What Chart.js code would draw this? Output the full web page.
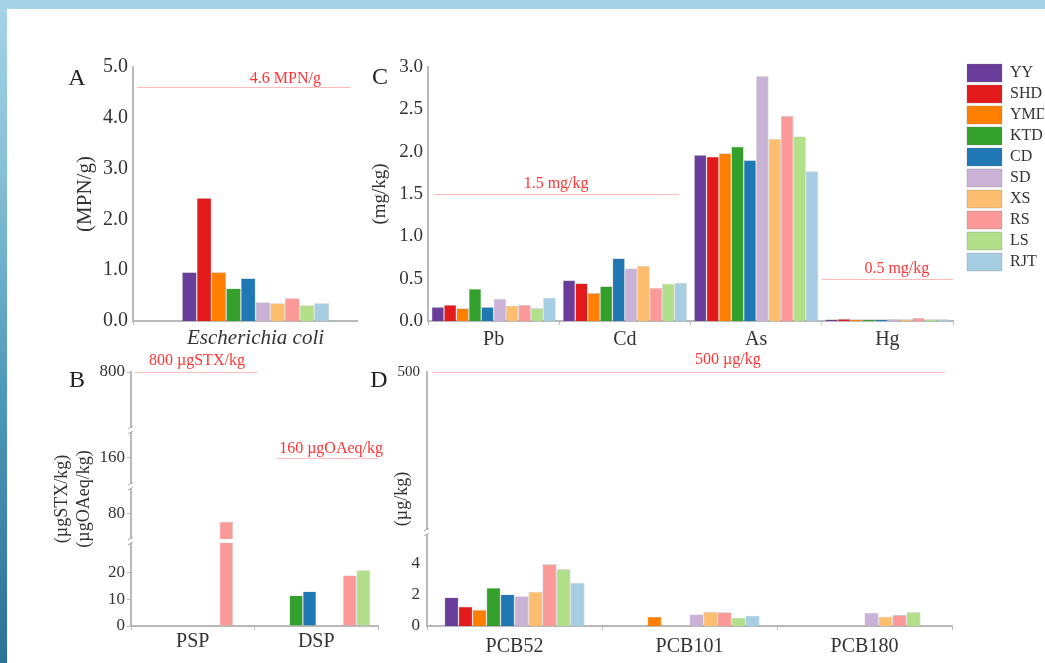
<!DOCTYPE html>
<html>
<head>
<meta charset="utf-8">
<script src="https://cdn.jsdelivr.net/npm/chart.js@4.4.1/dist/chart.umd.min.js"></script>
<style>
html, body { margin: 0; padding: 0; }
body {
  width: 1045px; height: 663px; overflow: hidden; position: relative;
  background: linear-gradient(180deg, #a6d3e7 0%, #86c1d7 25%, #4d98b7 60%, #2b7397 100%);
}
#paper { position: absolute; left: 7px; top: 9px; width: 1045px; height: 663px; background: #fff; }
canvas { position: absolute; left: 0; top: 0; }
</style>
</head>
<body>
<div id="paper"></div>
<canvas id="chartA" width="1045" height="663"></canvas>
<canvas id="chartB" width="1045" height="663"></canvas>
<canvas id="chartC" width="1045" height="663"></canvas>
<canvas id="chartD" width="1045" height="663"></canvas>
<script>
// sampling sites and their colours
const sites = ['YY', 'SHD', 'YMD', 'KTD', 'CD', 'SD', 'XS', 'RS', 'LS', 'RJT'];
const siteColors = ['#6a3d9a', '#e31a1c', '#ff7f00', '#33a02c', '#1f78b4',
                    '#cab2d6', '#fdbf6f', '#fb9a99', '#b2df8a', '#a6cee3'];

// A: microbes (MPN/g)
const microCats = ['Escherichia coli'];
const eColi = [0.96, 2.42, 0.96, 0.64, 0.84, 0.37, 0.35, 0.45, 0.31, 0.35];
const microLimits = [4.6];
const microLimitText = ['4.6 MPN/g'];

// B: shellfish toxins
const toxinCats = ['PSP', 'DSP'];
const psp = [null, null, null, null, null, null, null, 74, null, null];
const dsp = [null, null, null, 11.5, 13, null, null, 19, 21, null];
const toxinTicks = [0, 10, 20, 80, 160, 800];
const toxinLimits = [800, 160];
const toxinLimitText = ['800 \u00b5gSTX/kg', '160 \u00b5gOAeq/kg'];

// C: heavy metals (mg/kg)
const metalCats = ['Pb', 'Cd', 'As', 'Hg'];
const lead = [0.165, 0.19, 0.15, 0.38, 0.165, 0.26, 0.18, 0.19, 0.15, 0.275];
const cadmium = [0.48, 0.445, 0.33, 0.41, 0.74, 0.62, 0.65, 0.39, 0.44, 0.45];
const arsenic = [1.96, 1.94, 1.98, 2.06, 1.90, 2.89, 2.15, 2.42, 2.18, 1.77];
const mercury = [0.02, 0.025, 0.02, 0.02, 0.02, 0.025, 0.02, 0.035, 0.02, 0.02];
const metalLimits = [1.5, 0.5];
const metalLimitText = ['1.5 mg/kg', '0.5 mg/kg'];

// D: PCBs (µg/kg)
const pcbCats = ['PCB52', 'PCB101', 'PCB180'];
const pcb52 = [1.82, 1.23, 1.02, 2.43, 2.01, 1.9, 2.18, 3.94, 3.62, 2.75];
const pcb101 = [null, null, 0.59, null, null, 0.74, 0.89, 0.87, 0.53, 0.66];
const pcb180 = [null, null, null, null, null, 0.85, 0.59, 0.70, 0.87, null];
const pcbTicks = [0, 2, 4, 500];
const pcbLimits = [500];
const pcbLimitText = ['500 \u00b5g/kg'];

const ink = '#333';
const axisGrey = '#b9b9b9';
Chart.defaults.font.family = '"Liberation Serif", "Times New Roman", serif';
Chart.defaults.color = ink;

// linear axis cut into pieces, each piece gets its own share of the axis height
class BrokenScale extends Chart.LinearScale {
  buildTicks() {
    return this.options.tickValues.map(v => ({value: v}));
  }
  getPixelForValue(value) {
    let acc = 0;
    for (const p of this.options.pieces) {
      if (value <= p.to) {
        const t = Math.max(0, Math.min(1, (value - p.from) / (p.to - p.from)));
        return this.getPixelForDecimal(acc + t * p.size);
      }
      acc += p.size;
    }
    return this.getPixelForDecimal(1);
  }
  getValueForPixel(pixel) {
    const dec = this.getDecimalForPixel(pixel);
    let acc = 0;
    for (const p of this.options.pieces) {
      if (dec <= acc + p.size) return p.from + (dec - acc) / p.size * (p.to - p.from);
      acc += p.size;
    }
    return this.max;
  }
}
BrokenScale.id = 'broken';
BrokenScale.defaults = Chart.LinearScale.defaults;

// red guideline values with their captions
const limitLines = {
  id: 'limitLines',
  afterDatasetsDraw(chart, args, o) {
    if (!o.values) return;
    const {ctx, chartArea: a} = chart;
    const y = chart.scales.y;
    const w = a.right - a.left;
    o.values.forEach((v, i) => {
      const py = Math.round(y.getPixelForValue(v)) + 0.5;
      const s = o.spans[i];
      ctx.save();
      ctx.strokeStyle = 'rgba(255, 95, 95, 0.42)';
      ctx.lineWidth = 1.2;
      ctx.beginPath();
      ctx.moveTo(a.left + s[0] * w, py);
      ctx.lineTo(a.left + s[1] * w, py);
      ctx.stroke();
      ctx.fillStyle = '#ff3535';
      ctx.font = '16px "Liberation Serif"';
      ctx.textAlign = 'center';
      ctx.textBaseline = 'middle';
      ctx.fillText(o.labels[i], a.left + s[2] * w, py + o.dy[i]);
      ctx.restore();
    });
  }
};

// little gaps where the axis is broken
const axisBreaks = {
  id: 'axisBreaks',
  afterDatasetsDraw(chart) {
    const y = chart.scales.y;
    const pieces = y.options.pieces;
    if (!pieces) return;
    const {ctx, chartArea: a} = chart;
    let acc = 0;
    ctx.save();
    for (let i = 0; i < pieces.length - 1; i++) {
      acc += pieces[i].size;
      const py = y.getPixelForDecimal(acc);
      ctx.fillStyle = '#fff';
      ctx.fillRect(a.left - 4, py - 2, a.right - a.left + 4, 4);
      ctx.strokeStyle = '#a8a8a8';
      ctx.lineWidth = 1;
      ctx.beginPath();
      ctx.moveTo(a.left - 3, py - 1); ctx.lineTo(a.left + 2, py - 4);
      ctx.moveTo(a.left - 3, py + 4); ctx.lineTo(a.left + 2, py + 1);
      ctx.stroke();
    }
    ctx.restore();
  }
};

const panelTag = {
  id: 'panelTag',
  afterDraw(chart, args, o) {
    if (!o.text) return;
    const ctx = chart.ctx;
    ctx.save();
    ctx.fillStyle = '#222';
    ctx.font = '24px "Liberation Serif"';
    ctx.textAlign = 'center';
    ctx.textBaseline = 'middle';
    ctx.fillText(o.text, o.x, o.y);
    ctx.restore();
  }
};

// put the legend where the figure has it
const legendPlace = {
  id: 'legendPlace',
  afterLayout(chart, args, o) {
    if (o.left === undefined || !chart.legend) return;
    const l = chart.legend;
    const w = l.right - l.left, h = l.bottom - l.top;
    l.left = o.left; l.right = o.left + w;
    l.top = o.top; l.bottom = o.top + h;
  }
};

Chart.register(BrokenScale, limitLines, axisBreaks, panelTag, legendPlace);

function makeDatasets(values) {
  return sites.map((s, i) => ({
    label: s,
    data: values.map(v => v[i]),
    backgroundColor: siteColors[i],
    borderColor: 'rgba(120, 120, 120, 0.45)',
    borderWidth: 0.6
  }));
}

function catAxis(h, pad, font) {
  return {
    type: 'category',
    offset: true,
    grid: {display: true, drawOnChartArea: false, drawTicks: true, tickLength: 4, color: axisGrey, offset: true},
    border: {display: true, color: axisGrey, width: 2},
    ticks: {color: ink, padding: pad, font: font, maxRotation: 0, autoSkip: false},
    afterFit: s => { s.height = h; }
  };
}

function valAxis(o) {
  return Object.assign({
    grid: {display: o.tickLen > 0, drawOnChartArea: false, drawTicks: o.tickLen > 0, tickLength: o.tickLen || 0, color: axisGrey},
    border: {display: true, color: axisGrey, width: 2},
    title: {display: true, text: o.title, color: ink, font: o.titleFont, padding: {top: o.titlePad, bottom: 0}},
    afterFit: s => { s.width = o.width; }
  }, o.extra);
}

function panel(id, cats, values, o) {
  return new Chart(document.getElementById(id), {
    type: 'bar',
    data: {labels: cats, datasets: makeDatasets(values)},
    options: {
      responsive: false,
      animation: false,
      devicePixelRatio: 1,
      layout: {padding: o.padding},
      datasets: {bar: {categoryPercentage: o.catPct, barPercentage: 1}},
      plugins: {
        legend: o.legend || {display: false},
        tooltip: {enabled: false},
        limitLines: o.limits,
        panelTag: o.tag,
        legendPlace: o.legendPlace || {}
      },
      scales: {x: o.x, y: o.y}
    }
  });
}

// A: the single group sits a bit right of the middle of its axis
const xA = catAxis(40, 1, {size: 21, style: 'italic'});
xA.afterBuildTicks = s => { s._startValue = -0.547; };
panel('chartA', microCats, [eColi], {
  padding: {left: 60, top: 67, right: 688, bottom: 302},
  catPct: 0.656,
  tag: {text: 'A', x: 77, y: 79},
  limits: {values: microLimits, labels: microLimitText, spans: [[0.018, 0.97, 0.68]], dy: [-9]},
  x: xA,
  y: valAxis({
    width: 73, title: '(MPN/g)', titleFont: {size: 21}, titlePad: 13,
    extra: {min: 0, max: 5, ticks: {stepSize: 1, padding: 5, color: ink, font: {size: 20}, callback: v => v.toFixed(1)}}
  })
});

// B
panel('chartB', toxinCats, [psp, dsp], {
  padding: {left: 45, top: 372, right: 667, bottom: 1},
  catPct: 1.086,
  tag: {text: 'B', x: 77, y: 381},
  limits: {values: toxinLimits, labels: toxinLimitText, spans: [[0.016, 0.514, 0.267], [0.591, 1.0, 0.81]], dy: [-12, -10]},
  x: catAxis(36, 0, {size: 20}),
  y: valAxis({
    width: 86, title: ['(\u00b5gSTX/kg)', '(\u00b5gOAeq/kg)'], titleFont: {size: 18, lineHeight: 1.25}, titlePad: 6, tickLen: 4,
    extra: {
      type: 'broken', min: 0, max: 800,
      tickValues: toxinTicks,
      pieces: [{from: 0, to: 32, size: 0.335}, {from: 60, to: 100, size: 0.216},
               {from: 140, to: 180, size: 0.221}, {from: 600, to: 800, size: 0.228}],
      ticks: {padding: 2, color: ink, font: {size: 17}, autoSkip: false, callback: v => String(v)}
    }
  })
});

// C
panel('chartC', metalCats, [lead, cadmium, arsenic, mercury], {
  padding: {left: 360, top: 67, right: 12, bottom: 302},
  catPct: 0.945,
  tag: {text: 'C', x: 380, y: 78},
  limits: {values: metalLimits, labels: metalLimitText, spans: [[0.013, 0.478, 0.244], [0.75, 1.0, 0.893]], dy: [-11, -11]},
  legend: {
    display: true, position: 'right', align: 'start', maxWidth: 80,
    labels: {boxWidth: 35, boxHeight: 18, padding: 3, color: ink, font: {size: 16}}
  },
  legendPlace: {left: 964, top: 61},
  x: catAxis(40, 3, {size: 20}),
  y: valAxis({
    width: 68, title: '(mg/kg)', titleFont: {size: 19}, titlePad: 9,
    extra: {min: 0, max: 3, ticks: {stepSize: 0.5, padding: 5, color: ink, font: {size: 19}, callback: v => v.toFixed(1)}}
  })
});

// D
panel('chartD', pcbCats, [pcb52, pcb101, pcb180], {
  padding: {left: 385, top: 372, right: 93, bottom: 1},
  catPct: 0.8,
  tag: {text: 'D', x: 379, y: 381},
  limits: {values: pcbLimits, labels: pcbLimitText, spans: [[0.0095, 0.987, 0.573]], dy: [-13]},
  x: catAxis(36, 5, {size: 20}),
  y: valAxis({
    width: 42, title: '(\u00b5g/kg)', titleFont: {size: 18}, titlePad: 6,
    extra: {
      type: 'broken', min: 0, max: 500,
      tickValues: pcbTicks,
      pieces: [{from: 0, to: 6, size: 0.37}, {from: 300, to: 500, size: 0.63}],
      ticks: {padding: 7, color: ink, autoSkip: false, callback: v => String(v),
              font: c => ({size: c.tick && c.tick.value === 500 ? 15 : 17})}
    }
  })
});
</script>
</body>
</html>
